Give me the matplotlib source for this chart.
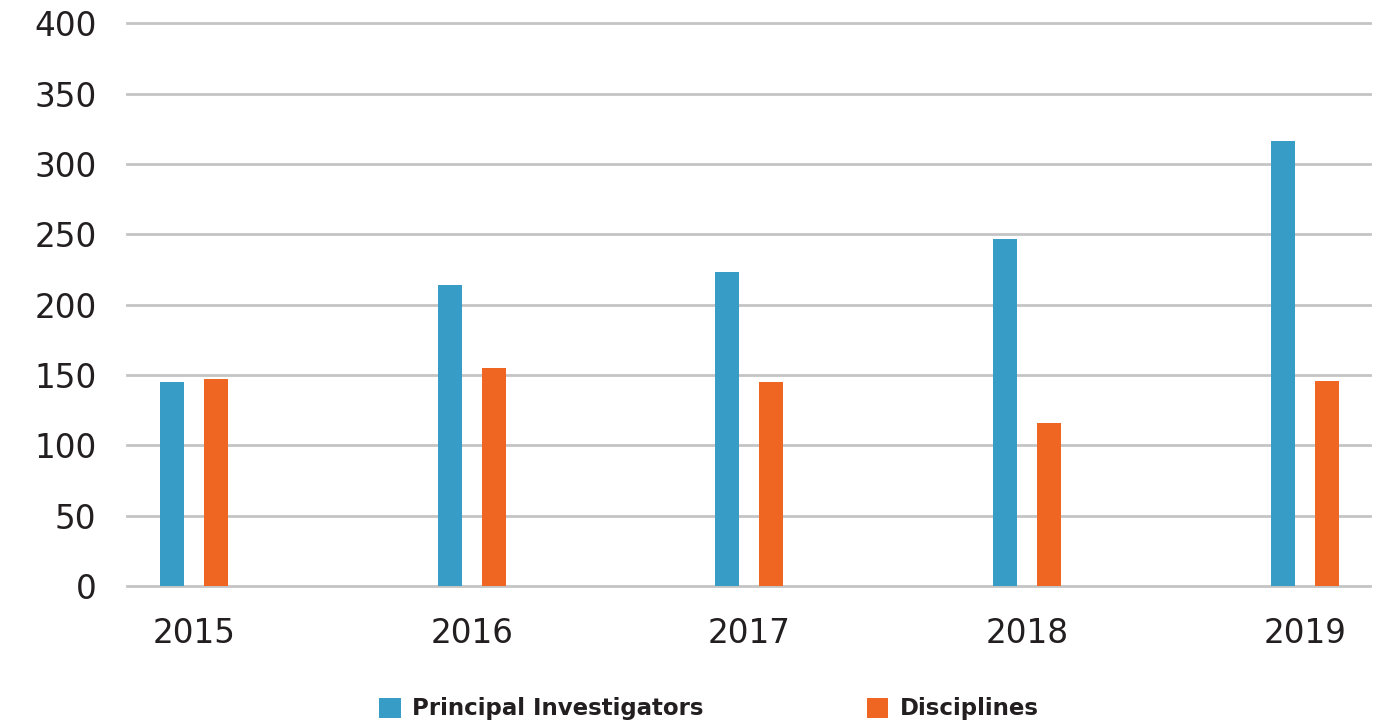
import numpy as np
import matplotlib
matplotlib.use("Agg")
import matplotlib.pyplot as plt

years = ["2015", "2016", "2017", "2018", "2019"]
investigators = [145, 214, 223, 247, 316]
disciplines = [147, 155, 145, 116, 146]

BLUE = "#389dc6"
ORANGE = "#ef6623"
TEXT = "#231f20"
GRID = "#c4c4c4"

fig = plt.figure(figsize=(13.78, 7.23), dpi=100)
ax = fig.add_axes([127 / 1378, 1 - 586 / 723, (1370 - 127) / 1378, (586 - 23.3) / 723])

x = np.arange(len(years))
w = 0.086
off = 0.079
ax.bar(x - off, investigators, width=w, color=BLUE, label="Principal Investigators", zorder=3)
ax.bar(x + off, disciplines, width=w, color=ORANGE, label="Disciplines", zorder=3)

ax.set_ylim(0, 400)
ax.set_xlim(-0.241, 4.235)
ax.set_yticks(range(0, 401, 50))
ax.set_xticks(x)
ax.set_xticklabels(years)
ax.yaxis.grid(True, color=GRID, linewidth=2, zorder=0)
for gl in ax.get_ygridlines():
    gl.set_clip_on(False)
ax.set_axisbelow(True)
for s in ax.spines.values():
    s.set_visible(False)
ax.tick_params(axis="both", length=0, labelsize=23.5, labelcolor=TEXT)
ax.tick_params(axis="y", pad=22)
ax.tick_params(axis="x", pad=22)

fig.legend(loc="center", bbox_to_anchor=(0.5145, 1 - 709 / 723), ncol=2, frameon=False,
           handlelength=0.95, handleheight=0.95, handletextpad=0.5, columnspacing=7.1,
           prop={"size": 16.5, "weight": "bold"}, labelcolor=TEXT)

fig.savefig("out.png", dpi=100)
